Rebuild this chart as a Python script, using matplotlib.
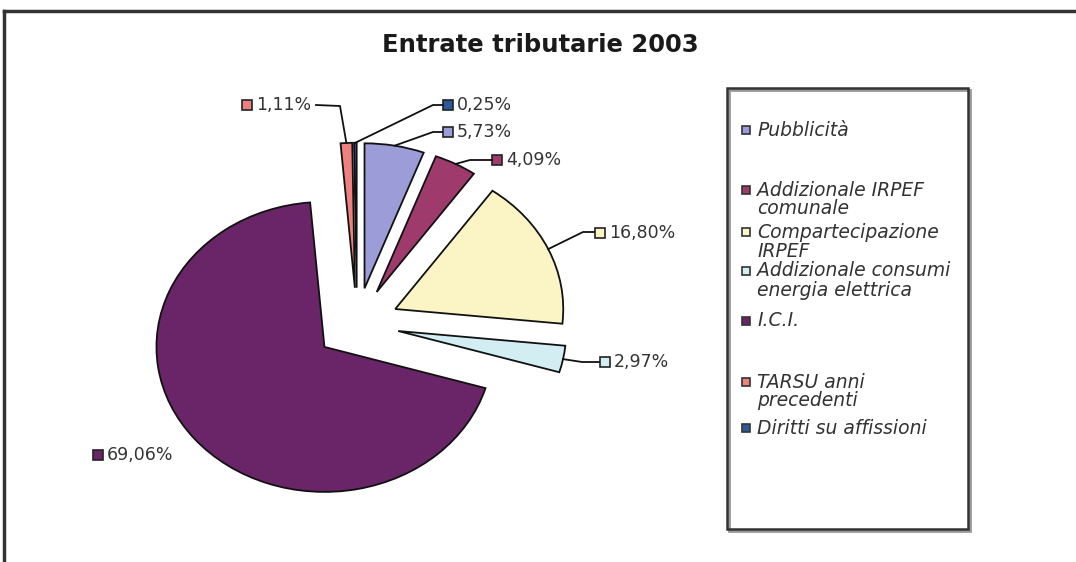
import matplotlib.pyplot as plt
import numpy as np
from matplotlib.patches import Rectangle
from matplotlib.lines import Line2D

# Entrate tributarie 2003 - torta esplosa con legenda a destra
W, H = 1076, 562

voci = ['Pubblicità', 'Addizionale IRPEF\ncomunale', 'Compartecipazione\nIRPEF',
        'Addizionale consumi\nenergia elettrica', 'I.C.I.', 'TARSU anni\nprecedenti',
        'Diritti su affissioni']
valori = [5.73, 4.09, 16.80, 2.97, 69.06, 1.11, 0.25]
colori = ['#9c9cd8', '#9e3a6c', '#fbf5c6', '#d2eef2', '#6a2468', '#ef8080', '#2a5a9a']
etichette = [f'{v:.2f}'.replace('.', ',') + '%' for v in valori]

# centro della torta (px) e raggi: l'immagine originale e' stirata in orizzontale
CX, CY, RX, RY = 357, 324, 168, 145
LIM = 1.6

# posizione del quadratino di ogni etichetta, gomito e attacco della linea guida (px)
pos_etichette = [(448, 132), (497, 160), (600, 233), (605, 362), (98, 455), (247, 105), (448, 105)]
gomiti = [(433, 132), (470, 160), (583, 232), (582, 362), None, (340, 106), (433, 105)]
attacchi = [(442, 132), (492, 160), (594, 232), (599, 362), None, (316, 105), (443, 105)]

# righe della legenda (y in px della prima riga)
y_legenda = [130, 190, 232, 271, 321, 382, 428]


def fig_xy(px, py):
    return px / W, 1 - py / H


def dati(px, py):
    return (px - CX) / RX, (CY - py) / RY


fig = plt.figure(figsize=(W / 100, H / 100), dpi=100)
fig.patch.set_facecolor('white')

ax = fig.add_axes([(CX - LIM * RX) / W, 1 - (CY + LIM * RY) / H,
                   2 * LIM * RX / W, 2 * LIM * RY / H])
wedges, _ = ax.pie(valori, colors=colori, startangle=90, counterclock=False,
                   explode=[0.25] * len(valori),
                   wedgeprops=dict(edgecolor='#111111', linewidth=1.3))
ax.set_aspect('auto')
ax.set_xlim(-LIM, LIM)
ax.set_ylim(-LIM, LIM)
ax.axis('off')

# etichette percentuali con linee guida
for w, lab, col, pos, gom, att in zip(wedges, etichette, colori, pos_etichette, gomiti, attacchi):
    sx, sy = dati(*pos)
    ax.plot([sx], [sy], marker='s', markersize=6.5, color=col, mec='#222222', mew=1.2,
            clip_on=False)
    ax.text(sx + 9 / RX, sy, lab, ha='left', va='center', fontsize=12.5,
            family='DejaVu Sans', color='#333333', clip_on=False)
    if gom is None:
        continue
    mid = np.radians((w.theta1 + w.theta2) / 2)
    p0 = (w.center[0] + np.cos(mid), w.center[1] + np.sin(mid))
    p1 = dati(*gom)
    p2 = dati(*att)
    ax.plot([p0[0], p1[0], p2[0]], [p0[1], p1[1], p2[1]], color='#111111', lw=1.3,
            clip_on=False)

# titolo
fig.text(*fig_xy(540, 45), 'Entrate tributarie 2003', ha='center', va='center',
         fontsize=17.5, fontweight='bold', family='DejaVu Sans', color='#1a1a1a')

# cornice esterna
fig.add_artist(Line2D([4 / W, 4 / W], [0, 1 - 11 / H], transform=fig.transFigure,
                      color='#333333', lw=2.5))
fig.add_artist(Line2D([4 / W, 1], [1 - 11 / H, 1 - 11 / H], transform=fig.transFigure,
                      color='#333333', lw=2.5))

# legenda disegnata a mano
x0, y0 = fig_xy(727, 529)
fig.add_artist(Rectangle((x0 + 2 / W, y0 - 2 / H), 241 / W, 441 / H, transform=fig.transFigure,
                         fill=False, ec='#999999', lw=2))
fig.add_artist(Rectangle((x0, y0), 241 / W, 441 / H, transform=fig.transFigure,
                         fill=False, ec='#333333', lw=1.8))
for voce, col, yl in zip(voci, colori, y_legenda):
    kx, ky = fig_xy(746, yl)
    fig.add_artist(Rectangle((kx - 4 / W, ky - 4 / H), 8 / W, 8 / H, transform=fig.transFigure,
                             fc=col, ec='#333333', lw=1.2))
    for i, riga in enumerate(voce.split('\n')):
        tx, ty = fig_xy(757, yl + 19 * i)
        fig.text(tx, ty, riga, ha='left', va='center', fontsize=13.5, style='italic',
                 family='DejaVu Sans', color='#333333')

fig.savefig('out.png', dpi=100)
